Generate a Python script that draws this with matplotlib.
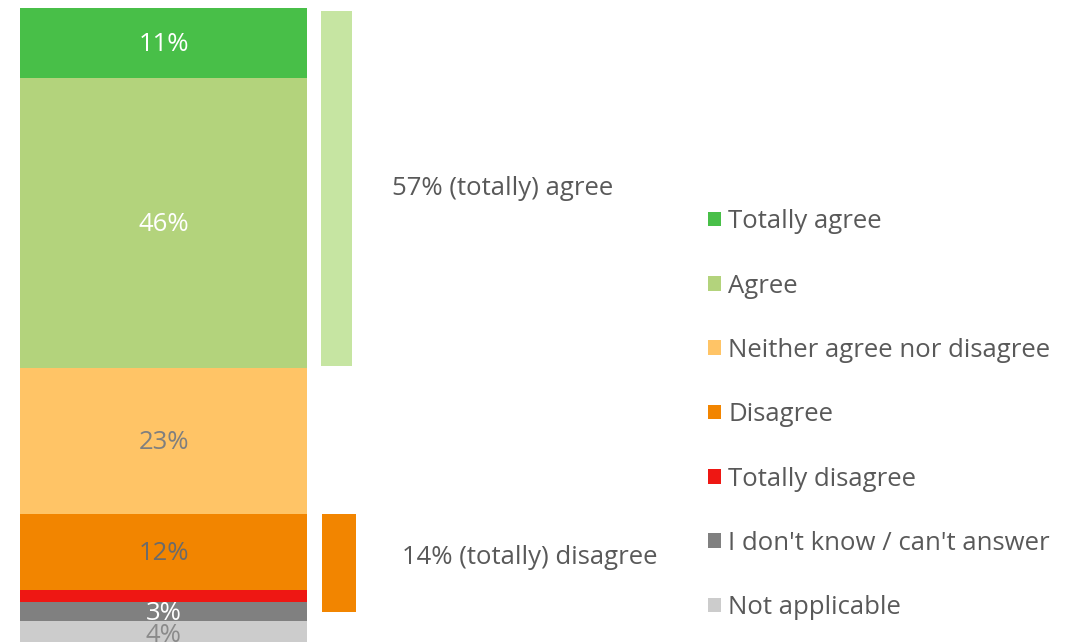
import numpy as np
import matplotlib
matplotlib.use("Agg")
import matplotlib.pyplot as plt
from matplotlib.patches import Patch

plt.rcParams['font.family'] = ['Open Sans', 'DejaVu Sans']

# answer categories, top to bottom of the stacked bar
categories = ["Totally agree", "Agree", "Neither agree nor disagree", "Disagree",
              "Totally disagree", "I don't know / can't answer", "Not applicable"]
values = [11, 46, 23, 12, 2, 3, 4]
shown = [True, True, True, True, False, True, True]
colors = ["#48bf48", "#b3d37c", "#ffc466", "#f28500", "#ee1713", "#808080", "#cccccc"]
label_colors = ["white", "white", "#7f7f7f", "#6b6b6b", "white", "white", "#8a8a8a"]

# summary brackets
agree_total = 57
disagree_total = 14
agree_text = "57% (totally) agree"
disagree_text = "14% (totally) disagree"

text_grey = "#595959"
fs = 18.5

fig = plt.figure(figsize=(10.83, 6.42), dpi=100)
ax = fig.add_axes([0, 0, 1, 1])
ax.set_xlim(-0.570, 3.204)
ax.set_ylim(100.3, -1.27)
ax.axis("off")

#stack the segments from the top down
bottoms = np.concatenate([[0], np.cumsum(values)[:-1]])
ax.bar(np.zeros(len(values)), values, bottom=bottoms, width=1.0, color=colors)

for val, b, show, c in zip(values, bottoms, shown, label_colors):
    if show:
        ax.text(0, b + val / 2 + 0.3, f"{val}%", ha="center", va="center",
                fontsize=fs, color=c)

#brackets to the right of the bar
agree_start = 0
disagree_start = values[0] + values[1] + values[2]
ax.bar([0.603], [agree_total - 0.8], bottom=agree_start + 0.4, width=0.108, color="#c6e5a2")
ax.bar([0.61], [disagree_total + 1.5], bottom=disagree_start, width=0.118, color="#f28500")

ax.text(1.18, agree_start + agree_total / 2, agree_text, ha="center", va="center",
        fontsize=fs, color=text_grey)
ax.text(1.277, disagree_start + disagree_total / 2, disagree_text, ha="center", va="center",
        fontsize=fs, color=text_grey)

handles = [Patch(facecolor=c, edgecolor="none") for c in colors]
leg = ax.legend(handles, categories, loc="upper left", bbox_to_anchor=(0.644, 0.69),
                frameon=False, fontsize=fs, handlelength=0.5, handleheight=0.5,
                handletextpad=0.3, labelspacing=1.53, borderaxespad=0)
for t in leg.get_texts():
    t.set_color(text_grey)

fig.savefig("out.png", dpi=100)
